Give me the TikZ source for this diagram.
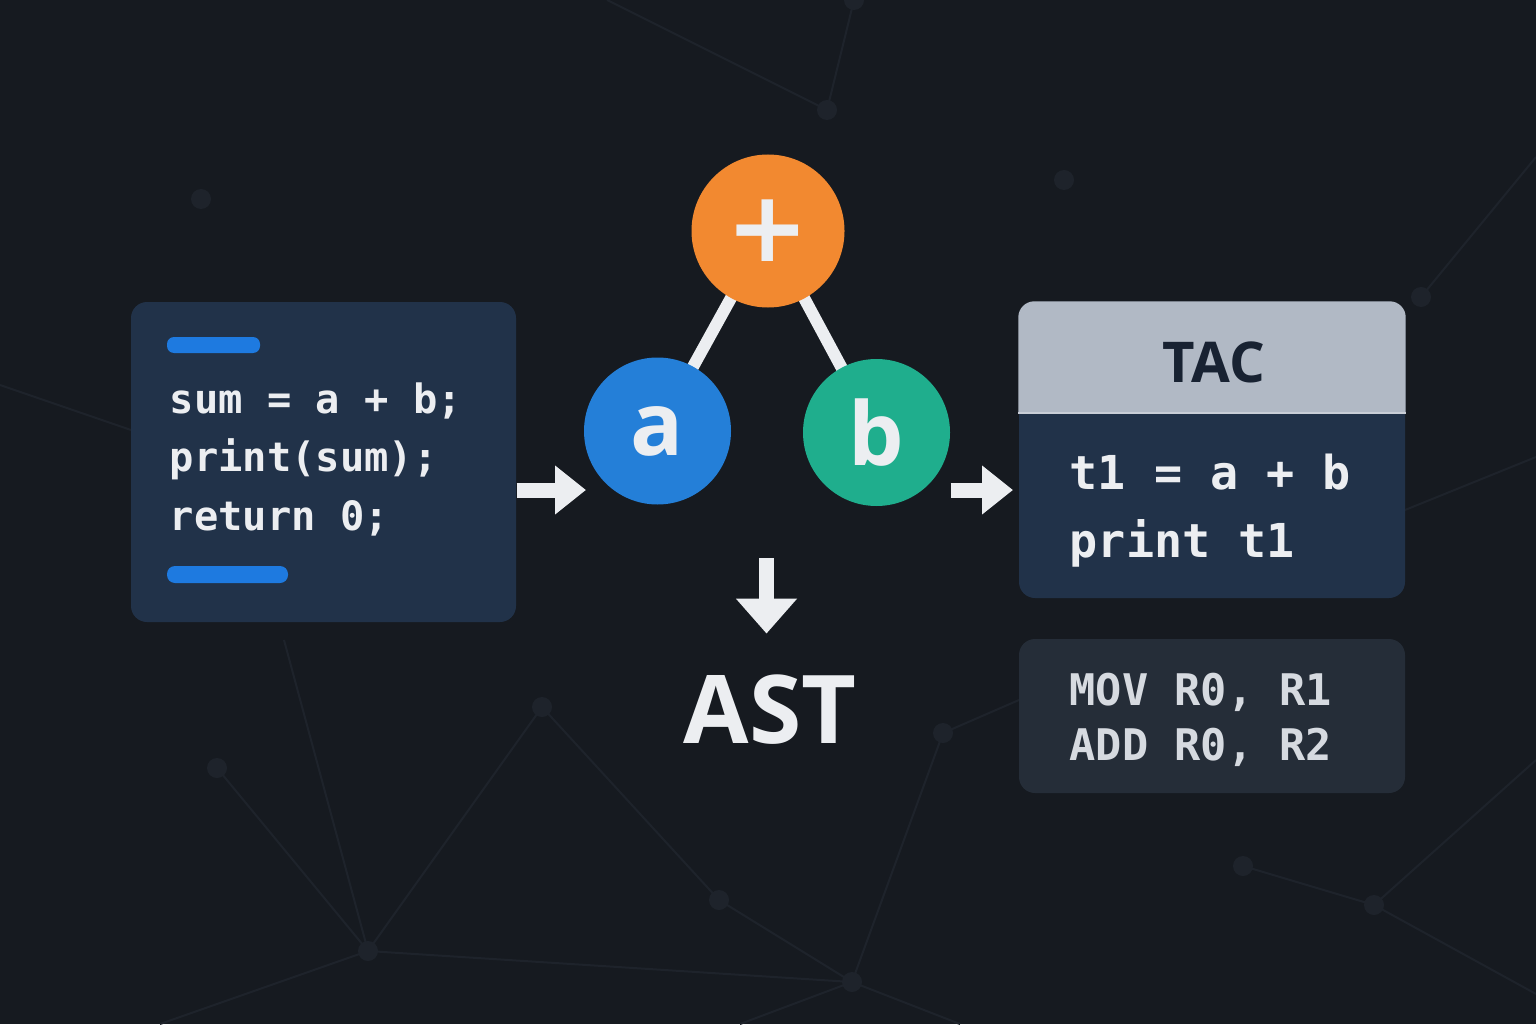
\documentclass[tikz,border=0pt]{standalone}
\usepackage{fontspec}
\setmainfont{Open Sans}
\setmonofont{DejaVu Sans Mono}
\newfontfamily\symfont{DejaVu Sans}
\usepackage{tikz}
\usetikzlibrary{arrows.meta, positioning, calc}
\definecolor{bgdark}{RGB}{22, 26, 32}
\definecolor{netgray}{RGB}{30, 35, 43}
\definecolor{codebg}{RGB}{33, 50, 73}
\definecolor{asmbg}{RGB}{37, 45, 56}
\definecolor{tachead}{RGB}{177, 185, 197}
\definecolor{tacink}{RGB}{24, 34, 50}
\definecolor{barblue}{RGB}{30, 122, 224}
\definecolor{oporange}{RGB}{242, 137, 48}
\definecolor{leafblue}{RGB}{36, 127, 216}
\definecolor{leafgreen}{RGB}{31, 174, 141}
\definecolor{textwhite}{RGB}{236, 238, 241}
\definecolor{asmtext}{RGB}{214, 218, 224}

\begin{document}
\begin{tikzpicture}[
    codetext/.style={anchor=base west, inner sep=0, text=textwhite, font=\ttfamily\bfseries\fontsize{11.5}{14}\selectfont},
    tactext/.style={anchor=base west, inner sep=0, text=textwhite, font=\ttfamily\bfseries\fontsize{13.3}{16}\selectfont},
    asmline/.style={anchor=base west, inner sep=0, text=asmtext, font=\ttfamily\bfseries\fontsize{12.4}{15}\selectfont},
    panel/.style={fill=#1, rounded corners=0.16cm, minimum width=3.86cm, inner sep=0},
    treenode/.style={circle, fill=#1, minimum size=1.47cm, inner sep=0, text=textwhite, font=\bfseries\fontsize{25}{30}\selectfont},
    fatarrow/.style={draw=textwhite, line width=0.15cm, -{Triangle[length=0.31cm, width=0.47cm]}},
    treeedge/.style={draw=textwhite, line width=0.12cm},
    netline/.style={draw=netgray, line width=0.02cm}
]
    % Background
    \useasboundingbox (0,0) rectangle (15.36,10.24);
    \clip (0,0) rectangle (15.36,10.24);
    \fill[bgdark] (0,0) rectangle (15.36,10.24);

    % Faint network behind everything
    \coordinate (n1) at (8.27,9.14);
    \coordinate (n2) at (10.64,8.44);
    \coordinate (n3) at (14.21,7.27);
    \coordinate (n4) at (2.01,8.25);
    \coordinate (m1) at (5.42,3.17);
    \coordinate (m2) at (9.43,2.91);
    \coordinate (m3) at (2.17,2.56);
    \coordinate (m4) at (12.43,1.58);
    \coordinate (m5) at (13.74,1.19);
    \coordinate (m6) at (7.19,1.24);
    \coordinate (m7) at (3.68,0.73);
    \coordinate (m8) at (8.52,0.42);
    \draw[netline] (6.07,10.24) -- (n1) -- (8.54,10.24);
    \draw[netline] (n3) -- (15.36,8.67);
    \draw[netline] (0,6.39) -- (1.31,5.94);
    \draw[netline] (14.05,5.14) -- (15.36,5.67);
    \draw[netline] (2.84,3.84) -- (m7) -- (m8) -- (m2) -- (10.19,3.24);
    \draw[netline] (m3) -- (m7);
    \draw[netline] (m1) -- (m6) -- (m8);
    \draw[netline] (m1) -- (m7);
    \draw[netline] (m4) -- (m5) -- (15.36,2.64);
    \draw[netline] (m5) -- (15.36,0.30);
    \draw[netline] (m7) -- (1.60,0);
    \draw[netline] (m8) -- (7.40,0);
    \draw[netline] (m8) -- (9.60,0);
    \fill[netgray] (n1) circle (0.1);
    \fill[netgray] (n2) circle (0.1);
    \fill[netgray] (n3) circle (0.1);
    \fill[netgray] (n4) circle (0.1);
    \fill[netgray] (8.54,10.24) circle (0.1);
    \fill[netgray] (m1) circle (0.1);
    \fill[netgray] (m2) circle (0.1);
    \fill[netgray] (m3) circle (0.1);
    \fill[netgray] (m4) circle (0.1);
    \fill[netgray] (m5) circle (0.1);
    \fill[netgray] (m6) circle (0.1);
    \fill[netgray] (m7) circle (0.1);
    \fill[netgray] (m8) circle (0.1);

    % Source code panel
    \node[panel=codebg, minimum width=3.85cm, minimum height=3.20cm] (src) at (3.235,5.62) {};
    \fill[barblue, rounded corners=0.07cm] (1.67,6.87) rectangle (2.60,6.71);
    \fill[barblue, rounded corners=0.08cm] (1.67,4.58) rectangle (2.88,4.41);
    \node[codetext] (src1) at (1.69,6.11) {sum = a + b;};
    \node[codetext] (src2) at (1.69,5.53) {print(sum);};
    \node[codetext] (src3) at (1.69,4.94) {return 0;};

    % AST: edges first, circles on top
    \coordinate (plusc) at (7.68,7.93);
    \coordinate (ac) at (6.575,5.93);
    \coordinate (bc) at (8.765,5.915);
    \draw[treeedge] (plusc) -- (ac);
    \draw[treeedge] (plusc) -- (bc);
    \node[treenode=oporange, minimum size=1.53cm, font=\symfont\bfseries\fontsize{28}{30}\selectfont] (plus) at (plusc) {+};
    \node[treenode=leafblue] (leafa) at (ac) {a};
    \node[treenode=leafgreen] (leafb) at (bc) {b};

    % AST caption
    \node[anchor=base, inner sep=0, text=textwhite, font=\bfseries\fontsize{27}{32}\selectfont] (ast) at (7.70,2.81) {AST};

    % TAC panel with light header
    \node[panel=codebg, minimum height=2.96cm] (tac) at (12.12,5.74) {};
    \begin{scope}
        \clip[rounded corners=0.16cm] (tac.south west) rectangle (tac.north east);
        \fill[tachead] (tac.north west) rectangle ([yshift=-1.12cm]tac.north east);
    \end{scope}
    \draw[tachead!60!textwhite, line width=0.02cm] ([yshift=-1.12cm]tac.north west) -- ([yshift=-1.12cm]tac.north east);
    \node[text=tacink, font=\bfseries\fontsize{16}{19}\selectfont] (taclabel) at (12.14,6.62) {TAC};
    \node[tactext] (tac1) at (10.69,5.35) {t1 = a + b};
    \node[tactext] (tac2) at (10.69,4.67) {print t1};

    % Assembly panel
    \node[panel=asmbg, minimum height=1.54cm] (asm) at (12.12,3.08) {};
    \node[asmline] (asm1) at (10.69,3.19) {MOV R0, R1};
    \node[asmline] (asm2) at (10.69,2.64) {ADD R0, R2};

    % Arrows between stages
    \coordinate (toast) at (5.86,5.34);
    \coordinate (totac) at (10.13,5.34);
    \coordinate (downstart) at (7.665,4.66);
    \draw[fatarrow] (src.east |- toast) -- (toast);
    \draw[fatarrow] (leafb.east |- totac) -- (totac);
    \draw[fatarrow, -{Triangle[length=0.35cm, width=0.59cm]}, shorten >=0.40cm] (downstart) -- (downstart |- ast.north);
\end{tikzpicture}
\end{document}
